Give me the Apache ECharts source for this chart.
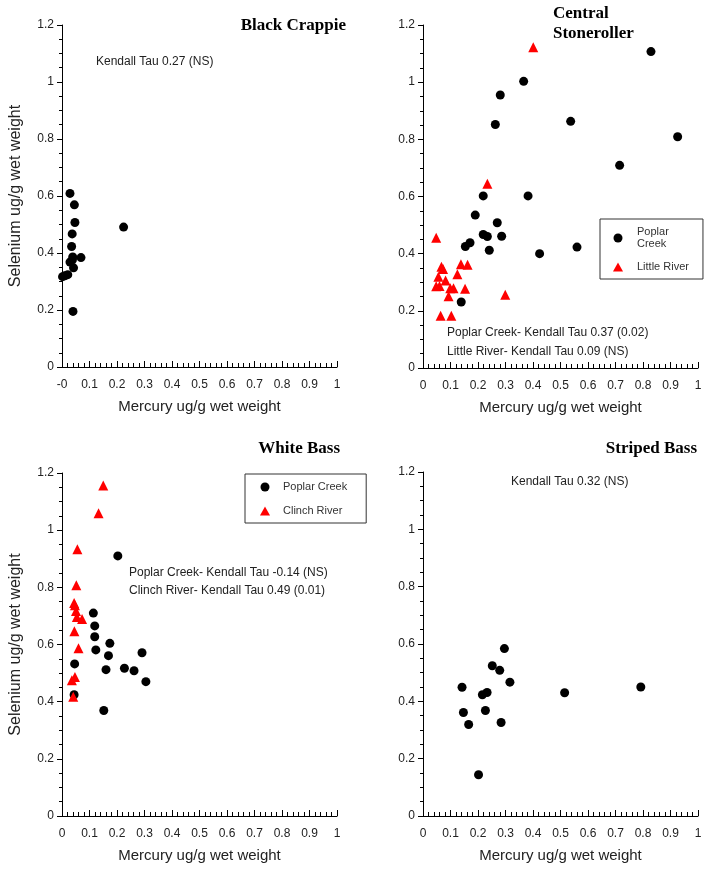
<!DOCTYPE html>
<html>
<head>
<meta charset="utf-8">
<script src="https://cdn.jsdelivr.net/npm/echarts@6/dist/echarts.min.js"></script>
<style>
  html, body { margin: 0; padding: 0; background: #fff; }
  #chart { width: 714px; height: 870px; }
</style>
</head>
<body>
<div id="chart"></div>
<script>
// values (mercury x, selenium y)
const bcX = [0.029, 0.045, 0.047, 0.037, 0.035, 0.039, 0.069, 0.029, 0.038, 0.042, 0.021, 0.010, 0.002, 0.040, 0.224]
const bcY = [0.609, 0.569, 0.507, 0.467, 0.423, 0.386, 0.384, 0.368, 0.376, 0.348, 0.324, 0.320, 0.317, 0.195, 0.491]

const csPoplarX = [0.829, 0.366, 0.281, 0.263, 0.537, 0.926, 0.715, 0.219, 0.382, 0.190, 0.270, 0.219, 0.234, 0.286, 0.171, 0.154, 0.241, 0.424, 0.560, 0.139]
const csPoplarY = [1.107, 1.003, 0.955, 0.852, 0.863, 0.809, 0.709, 0.602, 0.602, 0.535, 0.508, 0.467, 0.460, 0.461, 0.438, 0.425, 0.412, 0.400, 0.423, 0.231]
const csLittleX = [0.401, 0.234, 0.048, 0.067, 0.073, 0.056, 0.048, 0.060, 0.082, 0.125, 0.138, 0.162, 0.099, 0.111, 0.093, 0.153, 0.299, 0.064, 0.103]
const csLittleY = [1.122, 0.645, 0.456, 0.354, 0.346, 0.319, 0.286, 0.287, 0.306, 0.328, 0.363, 0.361, 0.279, 0.279, 0.251, 0.277, 0.256, 0.183, 0.183]

const wbPoplarX = [0.203, 0.114, 0.119, 0.119, 0.123, 0.174, 0.169, 0.291, 0.160, 0.227, 0.262, 0.305, 0.152, 0.046, 0.044]
const wbPoplarY = [0.910, 0.710, 0.665, 0.627, 0.581, 0.604, 0.561, 0.571, 0.512, 0.517, 0.508, 0.470, 0.369, 0.532, 0.424]
const wbClinchX = [0.150, 0.133, 0.056, 0.052, 0.044, 0.047, 0.051, 0.054, 0.073, 0.045, 0.060, 0.047, 0.036, 0.041]
const wbClinchY = [1.156, 1.059, 0.933, 0.807, 0.745, 0.737, 0.717, 0.696, 0.689, 0.646, 0.587, 0.486, 0.475, 0.417]

const sbX = [0.296, 0.252, 0.279, 0.316, 0.142, 0.792, 0.515, 0.216, 0.233, 0.147, 0.227, 0.166, 0.284, 0.202]
const sbY = [0.584, 0.524, 0.508, 0.467, 0.449, 0.450, 0.430, 0.423, 0.431, 0.361, 0.368, 0.319, 0.326, 0.144]

const xTicks = { min: 0, max: 1, interval: 0.1 }
const yTicks = { min: 0, max: 1.2, interval: 0.2 }

const xName = 'Mercury ug/g wet weight'
const yName = 'Selenium ug/g wet weight'

const legendNames = {
  csPoplar: 'Poplar\nCreek',
  csLittle: 'Little River',
  wbPoplar: 'Poplar Creek',
  wbClinch: 'Clinch River',
}

const zip = (xs, ys) => xs.map((x, i) => [x, ys[i]])

const sans = 'Liberation Sans'
const serif = 'Liberation Serif'

// panel rectangles
const grids = [
  { left: 62, top: 25, width: 275, height: 342 },
  { left: 423, top: 25, width: 275, height: 343 },
  { left: 62, top: 473, width: 275, height: 343 },
  { left: 423, top: 472, width: 275, height: 344 },
]

function makeX(i) {
  return {
    type: 'value',
    gridIndex: i,
    ...xTicks,
    name: xName,
    nameLocation: 'middle',
    nameGap: 32,
    nameTextStyle: { fontSize: 15, color: '#222', fontFamily: sans },
    splitLine: { show: false },
    axisLine: { show: true, lineStyle: { color: '#000', width: 1 } },
    axisTick: { show: true, inside: true, length: 6, lineStyle: { color: '#000' } },
    minorTick: { show: true, splitNumber: 5, length: 4, lineStyle: { color: '#000' } },
    axisLabel: {
      fontSize: 12, color: '#222', fontFamily: sans, margin: 12,
      formatter: v => (i === 0 && v === 0 ? '-0' : String(+v.toFixed(1))),
    },
  }
}

function makeY(i, withName) {
  return {
    type: 'value',
    gridIndex: i,
    ...yTicks,
    name: withName ? yName : '',
    nameLocation: 'middle',
    nameGap: 38,
    nameTextStyle: { fontSize: 16, color: '#222', fontFamily: sans },
    splitLine: { show: false },
    axisLine: { show: true, lineStyle: { color: '#000', width: 1 } },
    axisTick: { show: true, length: 5, lineStyle: { color: '#000' } },
    minorTick: { show: true, splitNumber: 4, length: 3, lineStyle: { color: '#000' } },
    axisLabel: { fontSize: 12, color: '#222', fontFamily: sans, margin: 8 },
  }
}

function dots(name, i, data) {
  return {
    name, type: 'scatter', xAxisIndex: i, yAxisIndex: i, data,
    symbol: 'circle', symbolSize: 9,
    itemStyle: { color: '#000', opacity: 1 },
  }
}

function tris(name, i, data) {
  return {
    name, type: 'scatter', xAxisIndex: i, yAxisIndex: i, data,
    symbol: 'triangle', symbolSize: 10,
    itemStyle: { color: '#ff0000', opacity: 1 },
  }
}

function label(x, y, text, opts = {}) {
  return {
    type: 'text', x, y, z: 10,
    style: {
      text,
      font: opts.font || `12px '${sans}'`,
      fill: opts.fill || '#222',
      textAlign: opts.align || 'left',
      textVerticalAlign: 'middle',
    },
  }
}

const titleFont = `bold 17px '${serif}'`

const chart = echarts.init(document.getElementById('chart'))

chart.setOption({
  animation: false,
  backgroundColor: '#fff',
  grid: grids,
  xAxis: [makeX(0), makeX(1), makeX(2), makeX(3)],
  yAxis: [makeY(0, true), makeY(1, false), makeY(2, true), makeY(3, false)],
  legend: [
    {
      data: ['csPoplar', 'csLittle'],
      left: 600, top: 219, orient: 'vertical',
      padding: [7, 14, 6, 13], itemGap: 11, itemWidth: 10, itemHeight: 9,
      borderColor: '#333', borderWidth: 1, selectedMode: false,
      formatter: n => legendNames[n],
      textStyle: { fontSize: 11, lineHeight: 12, color: '#333', fontFamily: sans, padding: [0, 0, 0, 9] },
    },
    {
      data: ['wbPoplar', 'wbClinch'],
      left: 245, top: 474, orient: 'vertical',
      padding: [6, 19, 5, 15], itemGap: 10, itemWidth: 10, itemHeight: 9,
      borderColor: '#333', borderWidth: 1, selectedMode: false,
      formatter: n => legendNames[n],
      textStyle: { fontSize: 11, lineHeight: 14, color: '#333', fontFamily: sans, padding: [0, 0, 0, 8] },
    },
  ],
  series: [
    dots('bc', 0, zip(bcX, bcY)),
    dots('csPoplar', 1, zip(csPoplarX, csPoplarY)),
    tris('csLittle', 1, zip(csLittleX, csLittleY)),
    dots('wbPoplar', 2, zip(wbPoplarX, wbPoplarY)),
    tris('wbClinch', 2, zip(wbClinchX, wbClinchY)),
    dots('sb', 3, zip(sbX, sbY)),
  ],
  graphic: [
    label(346, 26, 'Black Crappie', { font: titleFont, fill: '#000', align: 'right' }),
    label(96, 62, 'Kendall Tau 0.27 (NS)'),

    label(553, 14, 'Central', { font: titleFont, fill: '#000' }),
    label(553, 34, 'Stoneroller', { font: titleFont, fill: '#000' }),
    label(447, 333, 'Poplar Creek- Kendall Tau 0.37 (0.02)'),
    label(447, 352, 'Little River- Kendall Tau 0.09 (NS)'),

    label(340, 449, 'White Bass', { font: titleFont, fill: '#000', align: 'right' }),
    label(129, 573, 'Poplar Creek- Kendall Tau -0.14 (NS)'),
    label(129, 591, 'Clinch River- Kendall Tau 0.49 (0.01)'),

    label(697, 449, 'Striped Bass', { font: titleFont, fill: '#000', align: 'right' }),
    label(511, 482, 'Kendall Tau 0.32 (NS)'),
  ],
})
</script>
</body>
</html>
